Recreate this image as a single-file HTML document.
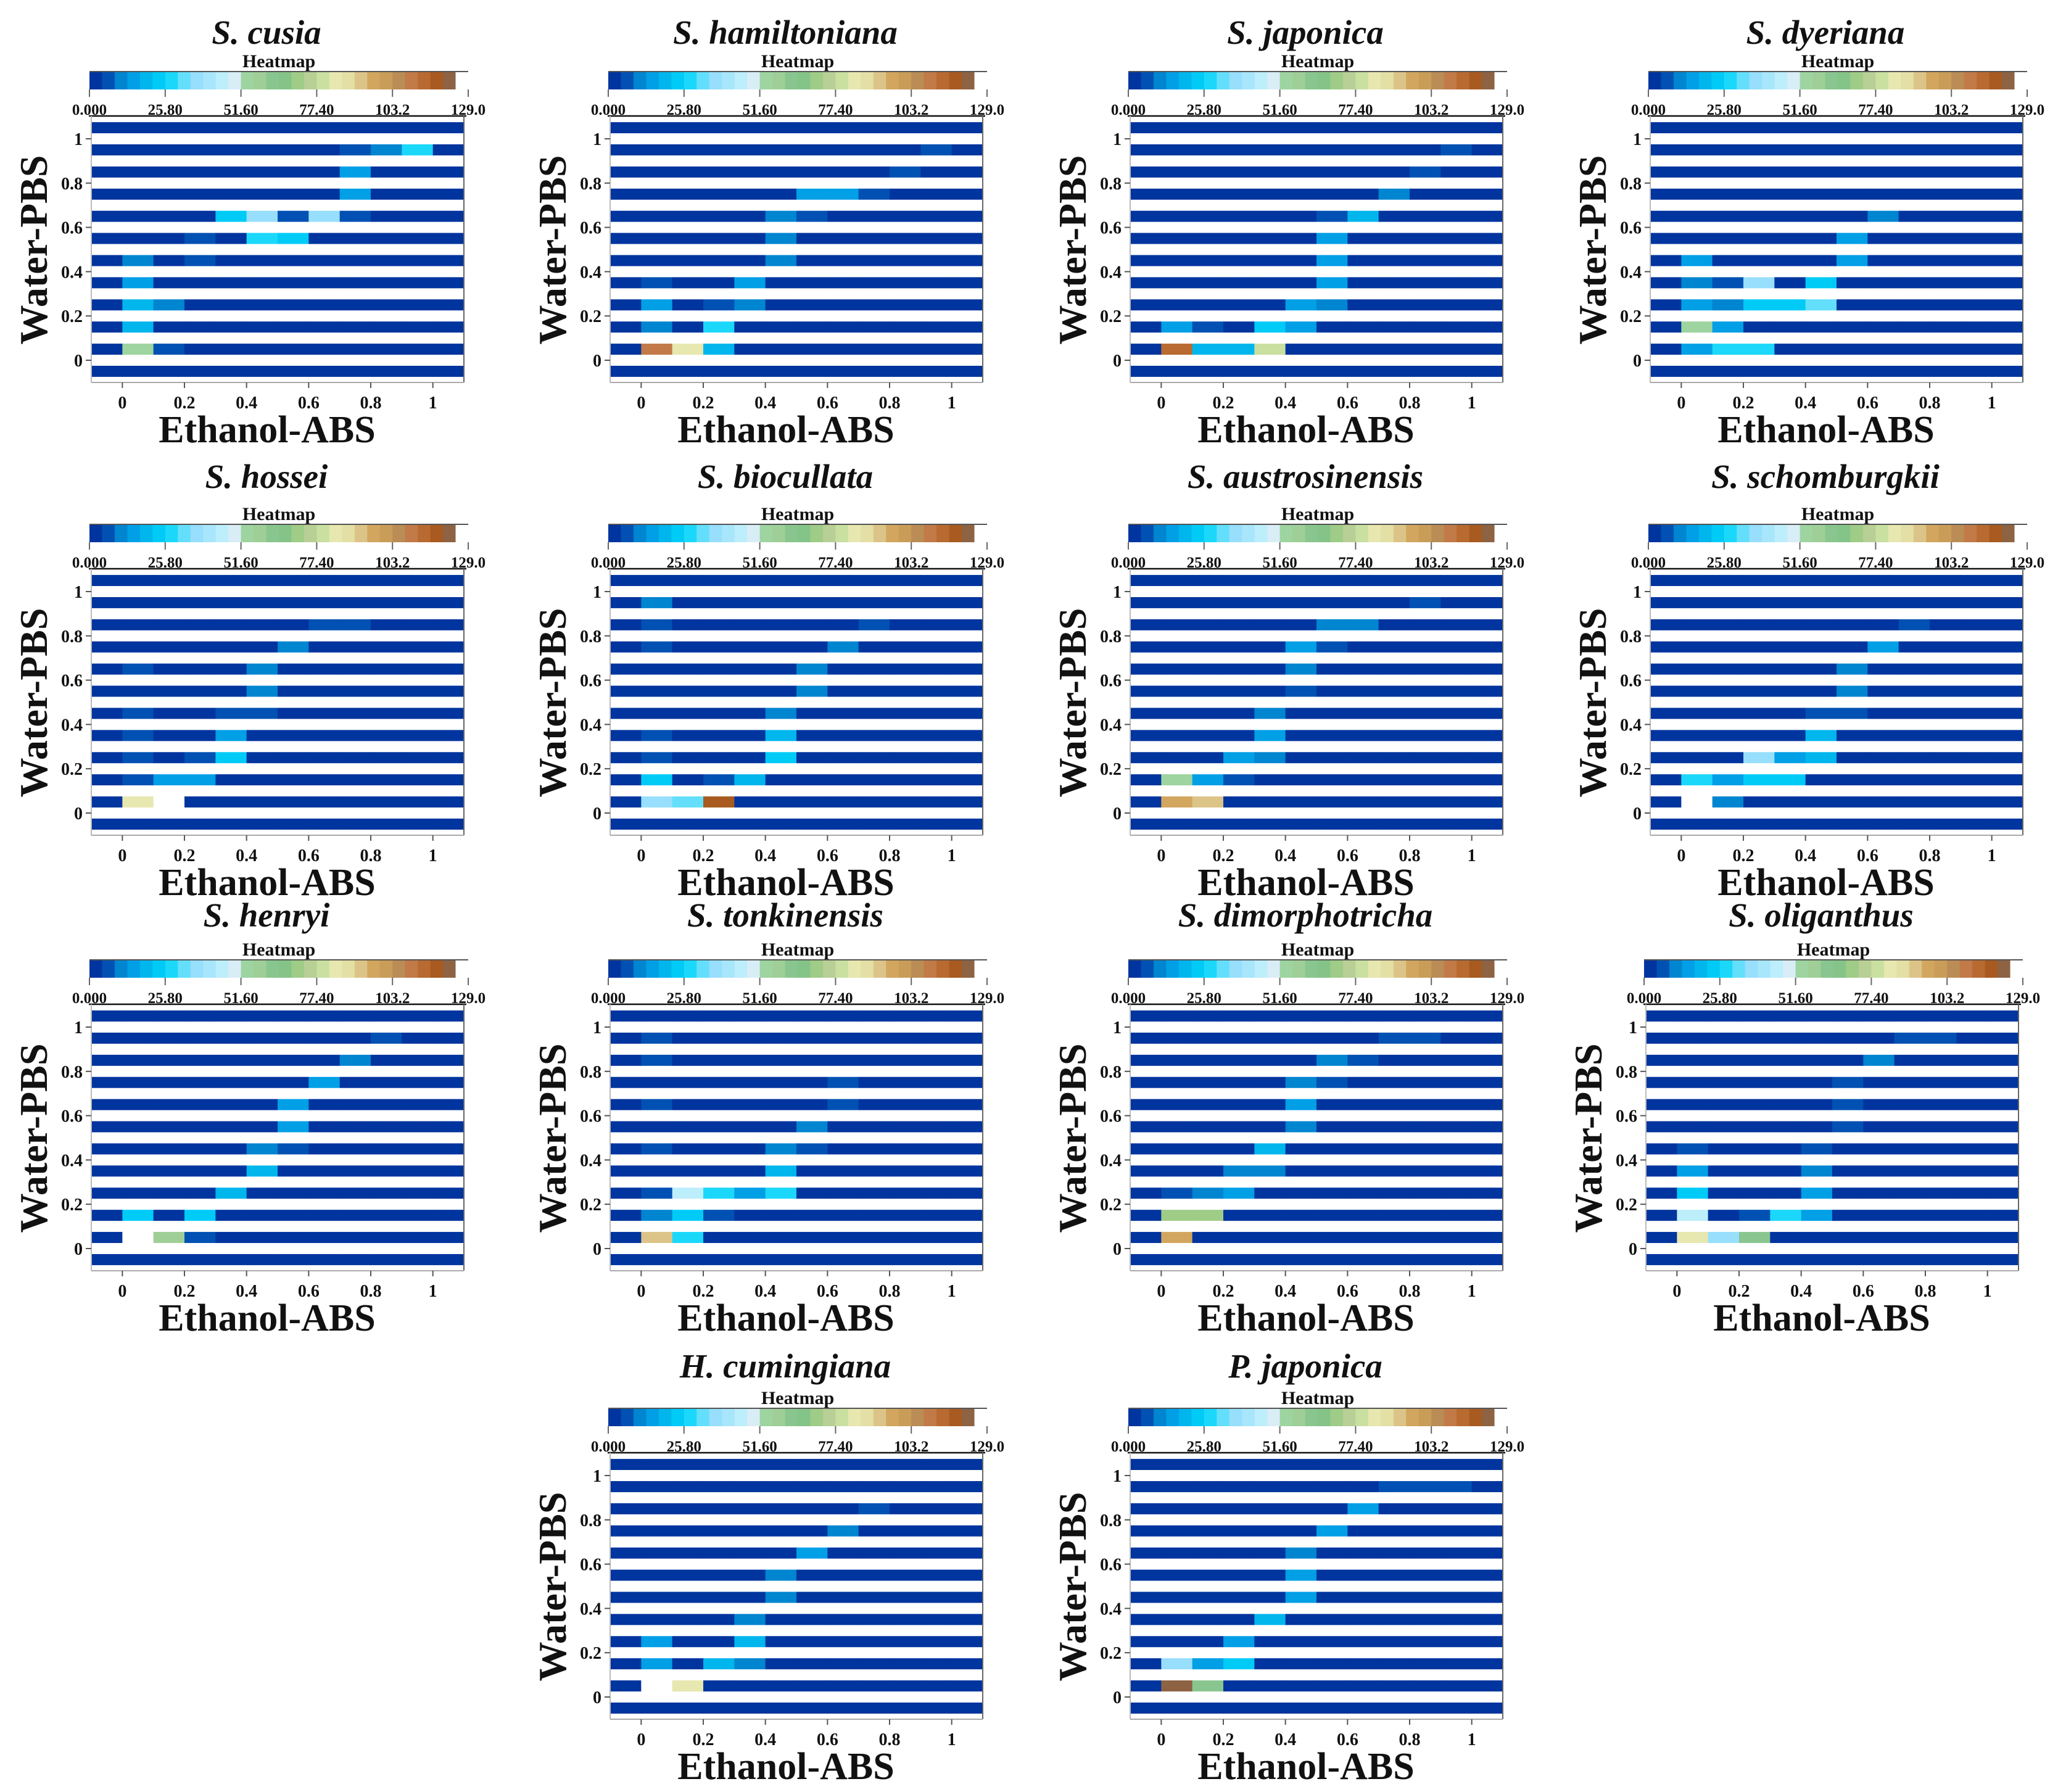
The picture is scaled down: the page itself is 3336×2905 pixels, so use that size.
<!DOCTYPE html>
<html><head><meta charset="utf-8"><style>
html,body{margin:0;padding:0;background:#fff;}
svg{display:block;}
text{font-family:"Liberation Serif",serif;font-weight:bold;fill:#111;}
</style></head><body>
<svg id="chart" xmlns="http://www.w3.org/2000/svg" width="3336" height="2905" viewBox="0 0 3336 2905"></svg>
<script>
const palette = ["#00349e","#0051b3","#0085d0","#009fe6","#00b6ec","#00cbf7","#1bd8fa","#64dffb","#97dffc","#a8e6fc","#bdeefb","#d9edf6","#9dd4a0","#9fcf97","#89c68f","#85c488","#9fcc86","#b8cf96","#c9e0a0","#e7e7b0","#e3dfa5","#dcc488","#d2a65e","#c99d58","#ba8c56","#c17a48","#b86a30","#a85a20","#8d6344","#ffffff"];
const cbTickLabels = ["0.000","25.80","51.60","77.40","103.2","129.0"];
const cbMax = 129;
const xTicks = [0,0.2,0.4,0.6,0.8,1];
const xTickLabels = ["0","0.2","0.4","0.6","0.8","1"];
const yTicks = [0,0.2,0.4,0.6,0.8,1];
const yTickLabels = ["0","0.2","0.4","0.6","0.8","1"];
const panelTitles = ["S. cusia","S. hamiltoniana","S. japonica","S. dyeriana","S. hossei","S. biocullata","S. austrosinensis","S. schomburgkii","S. henryi","S. tonkinensis","S. dimorphotricha","S. oliganthus","H. cumingiana","P. japonica"];
const cellsCusia = [[0.7,0.95,6],[0.8,0.95,11],[0.9,0.95,28],[0.7,0.85,15],[0.7,0.75,15],[0.3,0.65,24],[0.4,0.65,36],[0.5,0.65,6],[0.6,0.65,36],[0.7,0.65,6],[0.2,0.55,6],[0.4,0.55,28],[0.5,0.55,24],[0.0,0.45,11],[0.2,0.45,6],[0.0,0.35,15],[0.0,0.25,19],[0.1,0.25,11],[0.0,0.15,19],[0.0,0.05,54],[0.1,0.05,6]];
const cellsHamiltoniana = [[0.9,0.95,6],[0.8,0.85,6],[0.5,0.75,15],[0.6,0.75,15],[0.7,0.75,6],[0.4,0.65,11],[0.5,0.65,6],[0.4,0.55,11],[0.4,0.45,11],[0.0,0.35,6],[0.3,0.35,15],[0.0,0.25,15],[0.2,0.25,6],[0.3,0.25,11],[0.0,0.15,11],[0.2,0.15,28],[0.0,0.05,110],[0.1,0.05,84],[0.2,0.05,19]];
const cellsJaponica = [[0.9,0.95,6],[0.8,0.85,6],[0.7,0.75,11],[0.5,0.65,6],[0.6,0.65,19],[0.5,0.55,15],[0.5,0.45,15],[0.5,0.35,15],[0.4,0.25,15],[0.5,0.25,11],[0.0,0.15,15],[0.1,0.15,6],[0.3,0.15,24],[0.4,0.15,15],[0.0,0.05,114],[0.1,0.05,19],[0.2,0.05,19],[0.3,0.05,79]];
const cellsDyeriana = [[0.6,0.65,11],[0.5,0.55,15],[0.0,0.45,15],[0.5,0.45,15],[0.0,0.35,11],[0.1,0.35,6],[0.2,0.35,36],[0.4,0.35,24],[0.0,0.25,15],[0.1,0.25,11],[0.2,0.25,24],[0.3,0.25,24],[0.4,0.25,32],[0.0,0.15,54],[0.1,0.15,15],[0.0,0.05,15],[0.1,0.05,28],[0.2,0.05,28]];
const cellsHossei = [[0.6,0.85,6],[0.7,0.85,6],[0.5,0.75,11],[0.0,0.65,6],[0.4,0.65,11],[0.4,0.55,11],[0.0,0.45,6],[0.3,0.45,6],[0.4,0.45,6],[0.0,0.35,6],[0.3,0.35,15],[0.0,0.25,6],[0.2,0.25,6],[0.3,0.25,24],[0.0,0.15,6],[0.1,0.15,15],[0.2,0.15,15],[0.0,0.05,84],[0.1,0.05,127]];
const cellsBiocullata = [[0.0,0.95,11],[0.0,0.85,6],[0.7,0.85,6],[0.0,0.75,6],[0.6,0.75,11],[0.5,0.65,11],[0.5,0.55,11],[0.4,0.45,11],[0.0,0.35,6],[0.4,0.35,19],[0.0,0.25,6],[0.4,0.25,24],[0.0,0.15,24],[0.2,0.15,6],[0.3,0.15,19],[0.0,0.05,36],[0.1,0.05,32],[0.2,0.05,118]];
const cellsAustrosinensis = [[0.8,0.95,6],[0.5,0.85,11],[0.6,0.85,11],[0.4,0.75,15],[0.5,0.75,6],[0.4,0.65,11],[0.4,0.55,6],[0.3,0.45,11],[0.3,0.35,15],[0.2,0.25,15],[0.3,0.25,11],[0.0,0.15,54],[0.1,0.15,15],[0.2,0.15,6],[0.0,0.05,97],[0.1,0.05,92]];
const cellsSchomburgkii = [[0.7,0.85,6],[0.6,0.75,15],[0.5,0.65,11],[0.5,0.55,11],[0.4,0.45,6],[0.5,0.45,6],[0.4,0.35,19],[0.2,0.25,36],[0.3,0.25,15],[0.4,0.25,19],[0.0,0.15,28],[0.1,0.15,15],[0.2,0.15,24],[0.3,0.15,24],[0.0,0.05,127],[0.1,0.05,11]];
const cellsHenryi = [[0.8,0.95,6],[0.7,0.85,11],[0.6,0.75,15],[0.5,0.65,15],[0.5,0.55,15],[0.4,0.45,11],[0.5,0.45,6],[0.4,0.35,19],[0.3,0.25,19],[0.0,0.15,24],[0.2,0.15,24],[0.0,0.05,127],[0.1,0.05,58],[0.2,0.05,6]];
const cellsTonkinensis = [[0.0,0.95,6],[0.0,0.85,6],[0.6,0.75,6],[0.0,0.65,6],[0.6,0.65,6],[0.5,0.55,11],[0.0,0.45,6],[0.4,0.45,11],[0.5,0.45,6],[0.4,0.35,19],[0.0,0.25,6],[0.1,0.25,45],[0.2,0.25,28],[0.3,0.25,15],[0.4,0.25,28],[0.0,0.15,11],[0.1,0.15,24],[0.2,0.15,6],[0.0,0.05,92],[0.1,0.05,28]];
const cellsDimorphotricha = [[0.7,0.95,6],[0.8,0.95,6],[0.5,0.85,11],[0.6,0.85,6],[0.4,0.75,11],[0.5,0.75,6],[0.4,0.65,15],[0.4,0.55,11],[0.3,0.45,19],[0.2,0.35,11],[0.3,0.35,11],[0.0,0.25,6],[0.1,0.25,11],[0.2,0.25,15],[0.0,0.15,71],[0.1,0.15,71],[0.0,0.05,97]];
const cellsOliganthus = [[0.7,0.95,6],[0.8,0.95,6],[0.6,0.85,11],[0.5,0.75,6],[0.5,0.65,6],[0.5,0.55,6],[0.0,0.45,6],[0.4,0.45,6],[0.0,0.35,15],[0.4,0.35,11],[0.0,0.25,24],[0.4,0.25,15],[0.0,0.15,45],[0.2,0.15,6],[0.3,0.15,28],[0.4,0.15,15],[0.0,0.05,84],[0.1,0.05,36],[0.2,0.05,62]];
const cellsCumingiana = [[0.7,0.85,6],[0.6,0.75,11],[0.5,0.65,15],[0.4,0.55,11],[0.4,0.45,11],[0.3,0.35,11],[0.0,0.25,15],[0.3,0.25,19],[0.0,0.15,15],[0.2,0.15,19],[0.3,0.15,11],[0.0,0.05,127],[0.1,0.05,84]];
const cellsPJaponica = [[0.7,0.95,6],[0.8,0.95,6],[0.9,0.95,6],[0.6,0.85,15],[0.5,0.75,15],[0.4,0.65,11],[0.4,0.55,15],[0.4,0.45,15],[0.3,0.35,19],[0.2,0.25,15],[0.0,0.15,36],[0.1,0.15,15],[0.2,0.15,24],[0.0,0.05,122],[0.1,0.05,62]];
const panelCells = [cellsCusia,cellsHamiltoniana,cellsJaponica,cellsDyeriana,cellsHossei,cellsBiocullata,cellsAustrosinensis,cellsSchomburgkii,cellsHenryi,cellsTonkinensis,cellsDimorphotricha,cellsOliganthus,cellsCumingiana,cellsPJaponica];

const layout = [
 [0,0,0],[841,0,0],[1684,0,0],[2527,0,0],
 [0,734,-14],[841,734,-14],[1684,734,-14],[2527,734,-14],
 [0,1440,-9],[841,1440,-9],[1684,1440,-9],[2520,1440,-9],
 [841,2167,-5],[1684,2167,-5]
];
const NS = "http://www.w3.org/2000/svg";
const svg = document.getElementById("chart");
function mk(tag, attrs, parent, txt){
  const e = document.createElementNS(NS, tag);
  for (const k in attrs) e.setAttribute(k, attrs[k]);
  if (txt !== undefined) e.textContent = txt;
  parent.appendChild(e);
  return e;
}
function colorFor(v){ let i = Math.floor(v / cbMax * palette.length); if (i < 0) i = 0; if (i >= palette.length) i = palette.length - 1; return palette[i]; }
const PL=148, PR=752, PT=188, PB=620;
function xs(v){ return PL + (v + 0.1) / 1.2 * (PR - PL); }
function ys(v){ return 584 - v * 359; }

panelTitles.forEach((title, p) => {
  const [ox, oy, tdy] = layout[p];
  const g = mk("g", {transform: `translate(${ox},${oy})`}, svg);
  
  
  const t = mk("text", {x: 432, y: 71 + tdy, "text-anchor": "middle", "font-size": 55, "font-style": "italic"}, g, title);
  
  
  const hl = mk("text", {x: 452, y: 109, "text-anchor": "middle", "font-size": 30}, g, "Heatmap");
  
  
  const cb = mk("g", {}, g);
  
  
  const cbL = 145, cbR = 759, cbW = (cbR - cbL) / palette.length;
  palette.forEach((c, i) => {
    const r = mk("rect", {x: cbL + i * cbW, y: 117, width: cbW + 0.6, height: 28, fill: c}, cb);
    
    
  });
  mk("line", {x1: cbL, x2: cbR, y1: 116, y2: 116, stroke: "#555", "stroke-width": 2}, cb);
  cbTickLabels.forEach((lab, i) => {
    const x = cbL + i * (cbR - cbL) / (cbTickLabels.length - 1);
    mk("line", {x1: x, x2: x, y1: 145, y2: 157, stroke: "#666", "stroke-width": 2}, cb);
    const tl = mk("text", {x: x, y: 186, "text-anchor": "middle", "font-size": 25}, cb, lab);
    
    
  });
  const cg = mk("g", {}, g);
  
  
  const cells = panelCells[p];
  for (let r = 0; r < 12; r++) {
    const yc = Math.round((-0.05 + 0.1 * r) * 100) / 100;
    for (let c = 0; c < 12; c++) {
      const xl = Math.round((-0.1 + 0.1 * c) * 100) / 100;
      const hit = cells.find(d => Math.abs(d[0] - xl) < 1e-6 && Math.abs(d[1] - yc) < 1e-6);
      const v = hit ? hit[2] : 0;
      const x0 = xs(xl), x1 = xs(xl + 0.1);
      const y0 = ys(yc + 0.025), y1 = ys(yc - 0.025);
      const rc = mk("rect", {x: x0, y: y0, width: x1 - x0 + 0.6, height: y1 - y0, fill: colorFor(v)}, cg);
      
      
    }
  }
  mk("line", {x1: PL - 4, x2: PR + 4, y1: PT, y2: PT, stroke: "#111", "stroke-width": 2.5}, g);
  mk("line", {x1: PR, x2: PR, y1: PT, y2: PB, stroke: "#666", "stroke-width": 2}, g);
  mk("line", {x1: PL, x2: PL, y1: PT, y2: PB, stroke: "#bbb", "stroke-width": 2}, g);
  mk("line", {x1: PL, x2: PR, y1: PB, y2: PB, stroke: "#aaa", "stroke-width": 2}, g);
  yTicks.forEach((v, i) => {
    const y = ys(v);
    mk("line", {x1: PL - 9, x2: PL, y1: y, y2: y, stroke: "#555", "stroke-width": 2}, g);
    const tl = mk("text", {x: PL - 14, y: y + 10, "text-anchor": "end", "font-size": 28}, g, yTickLabels[i]);
    
    
  });
  xTicks.forEach((v, i) => {
    const x = xs(v);
    mk("line", {x1: x, x2: x, y1: PB, y2: PB + 9, stroke: "#555", "stroke-width": 2}, g);
    const tl = mk("text", {x: x, y: PB + 42, "text-anchor": "middle", "font-size": 28}, g, xTickLabels[i]);
    
    
  });
  const xt = mk("text", {x: 433, y: 717, "text-anchor": "middle", "font-size": 62}, g, "Ethanol-ABS");
  
  
  const yt = mk("text", {x: 0, y: 0, "text-anchor": "middle", "font-size": 64, transform: "translate(76,405) rotate(-90)"}, g, "Water-PBS");
  
  
});
</script>
</body></html>
